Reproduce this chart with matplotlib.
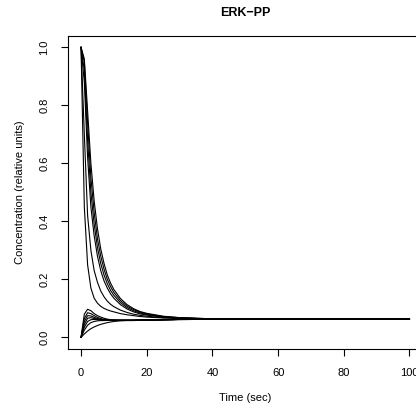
import matplotlib
matplotlib.use("Agg")
import matplotlib.pyplot as plt

plt.rcParams['font.family'] = ['Liberation Sans', 'DejaVu Sans']

time_sec = [0, 1, 2, 3, 4, 5, 6, 7, 8, 9, 10, 12, 14, 16, 18, 20, 25, 30, 35, 40, 50, 60, 70, 80, 90, 100]

decay_1 = [1.0, 0.45, 0.25, 0.17, 0.135, 0.118, 0.107, 0.100, 0.095, 0.091, 0.088, 0.082, 0.078, 0.075, 0.072, 0.070, 0.067, 0.065, 0.064, 0.064, 0.063, 0.063, 0.063, 0.063, 0.063, 0.063]
decay_2 = [1.0, 0.70, 0.42, 0.30, 0.23, 0.19, 0.16, 0.14, 0.125, 0.114, 0.106, 0.094, 0.086, 0.080, 0.076, 0.073, 0.068, 0.066, 0.065, 0.064, 0.063, 0.063, 0.063, 0.063, 0.063, 0.063]
decay_3 = [1.0, 0.88, 0.62, 0.45, 0.35, 0.28, 0.23, 0.195, 0.17, 0.15, 0.135, 0.113, 0.098, 0.088, 0.081, 0.077, 0.070, 0.067, 0.065, 0.064, 0.063, 0.063, 0.063, 0.063, 0.063, 0.063]
decay_4 = [1.0, 0.92, 0.68, 0.50, 0.39, 0.31, 0.255, 0.215, 0.185, 0.162, 0.145, 0.120, 0.103, 0.092, 0.084, 0.079, 0.071, 0.067, 0.065, 0.064, 0.063, 0.063, 0.063, 0.063, 0.063, 0.063]
decay_5 = [1.0, 0.95, 0.74, 0.55, 0.43, 0.34, 0.28, 0.235, 0.20, 0.175, 0.155, 0.127, 0.108, 0.096, 0.087, 0.081, 0.072, 0.068, 0.066, 0.064, 0.063, 0.063, 0.063, 0.063, 0.063, 0.063]
decay_6 = [1.0, 0.96, 0.78, 0.60, 0.47, 0.375, 0.305, 0.255, 0.215, 0.187, 0.165, 0.134, 0.113, 0.099, 0.089, 0.083, 0.073, 0.068, 0.066, 0.064, 0.063, 0.063, 0.063, 0.063, 0.063, 0.063]

rise_1 = [0.0, 0.080, 0.097, 0.092, 0.082, 0.075, 0.070, 0.066, 0.063, 0.061, 0.060, 0.059, 0.059, 0.059, 0.060, 0.060, 0.061, 0.062, 0.062, 0.063, 0.063, 0.063, 0.063, 0.063, 0.063, 0.063]
rise_2 = [0.0, 0.065, 0.085, 0.082, 0.075, 0.069, 0.065, 0.062, 0.061, 0.060, 0.059, 0.059, 0.059, 0.059, 0.060, 0.060, 0.061, 0.062, 0.062, 0.063, 0.063, 0.063, 0.063, 0.063, 0.063, 0.063]
rise_3 = [0.0, 0.055, 0.075, 0.074, 0.069, 0.065, 0.062, 0.061, 0.060, 0.059, 0.059, 0.059, 0.059, 0.059, 0.060, 0.060, 0.061, 0.062, 0.062, 0.063, 0.063, 0.063, 0.063, 0.063, 0.063, 0.063]
rise_4 = [0.0, 0.045, 0.066, 0.068, 0.065, 0.063, 0.061, 0.060, 0.059, 0.059, 0.059, 0.059, 0.059, 0.059, 0.060, 0.060, 0.061, 0.062, 0.062, 0.063, 0.063, 0.063, 0.063, 0.063, 0.063, 0.063]
rise_5 = [0.0, 0.035, 0.055, 0.061, 0.062, 0.061, 0.060, 0.059, 0.059, 0.059, 0.059, 0.059, 0.059, 0.059, 0.060, 0.060, 0.061, 0.062, 0.062, 0.063, 0.063, 0.063, 0.063, 0.063, 0.063, 0.063]
rise_6 = [0.0, 0.025, 0.042, 0.051, 0.055, 0.057, 0.058, 0.058, 0.059, 0.059, 0.059, 0.059, 0.059, 0.059, 0.060, 0.060, 0.061, 0.062, 0.062, 0.063, 0.063, 0.063, 0.063, 0.063, 0.063, 0.063]
rise_7 = [0.0, 0.012, 0.022, 0.030, 0.036, 0.041, 0.045, 0.048, 0.051, 0.053, 0.055, 0.057, 0.058, 0.058, 0.059, 0.059, 0.060, 0.061, 0.062, 0.062, 0.063, 0.063, 0.063, 0.063, 0.063, 0.063]

series = [decay_1, decay_2, decay_3, decay_4, decay_5, decay_6,
          rise_1, rise_2, rise_3, rise_4, rise_5, rise_6, rise_7]

x_ticks = [0, 20, 40, 60, 80, 100]
y_ticks = [0.0, 0.2, 0.4, 0.6, 0.8, 1.0]
x_tick_labels = ["0", "20", "40", "60", "80", "100"]
y_tick_labels = ["0.0", "0.2", "0.4", "0.6", "0.8", "1.0"]

W, H = 416, 412
fig = plt.figure(figsize=(W / 100, H / 100), dpi=100)
left, right, top, bottom = 67.9, 422.6, 35.7, 349.0
ax = fig.add_axes([left / W, 1 - bottom / H, (right - left) / W, (bottom - top) / H])

for s in series:
    ax.plot(time_sec, s, color='black', linewidth=0.8, solid_joinstyle='round')

ax.set_xlim(-4, 104)
ax.set_ylim(-0.04, 1.04)
ax.set_xticks(x_ticks)
ax.set_xticklabels(x_tick_labels)
ax.set_yticks(y_ticks)
ax.set_yticklabels(y_tick_labels)
for sp in ax.spines.values():
    sp.set_linewidth(0.8)
    sp.set_color('black')
ax.tick_params(direction='out', length=5, width=0.8, labelsize=8, pad=8.5)
plt.setp(ax.get_yticklabels(), rotation=90, va='center')

ax.set_xlabel("Time (sec)", fontsize=8, labelpad=11)
ax.set_ylabel("Concentration (relative units)", fontsize=8, labelpad=10)
ax.set_title("ERK\u2212PP", fontsize=9, fontweight='bold', pad=14)

fig.savefig("out.png", dpi=100)
